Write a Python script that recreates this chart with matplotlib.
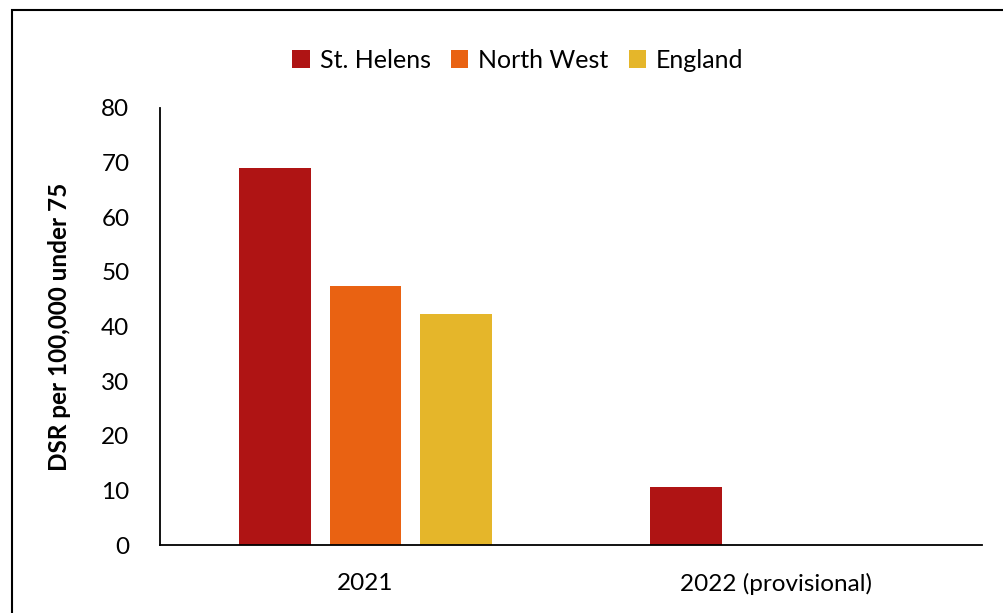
import numpy as np
import matplotlib.pyplot as plt
from matplotlib.patches import Rectangle

plt.rcParams['font.family'] = ['Lato', 'DejaVu Sans']

# Data
categories = ['2021', '2022 (provisional)']
series = ['St. Helens', 'North West', 'England']
st_helens = [69.0, 10.6]
north_west = [47.5, np.nan]
england = [42.2, np.nan]
colors = ['#AF1414', '#E96212', '#E5B62A']

fig = plt.figure(figsize=(10.04, 6.13), dpi=100)
ax = fig.add_axes([160 / 1004, 1 - 545 / 613, 822 / 1004, 437 / 613])

x = np.arange(len(categories))
width = 0.175
step = 0.221
for i, (vals, name) in enumerate(zip([st_helens, north_west, england], series)):
    ax.bar(x + (i - 1) * step, vals, width, color=colors[i], label=name)

ax.set_xlim(-0.5, 1.5)
ax.set_ylim(0, 80)
ax.set_yticks(range(0, 81, 10))
ax.set_xticks(x)
ax.set_xticklabels(categories)
ax.tick_params(axis='both', length=0, labelsize=17.5, colors='black')
ax.tick_params(axis='y', pad=22)
ax.tick_params(axis='x', pad=20)
for s in ['top', 'right']:
    ax.spines[s].set_visible(False)
ax.spines['left'].set_linewidth(1.3)
ax.spines['bottom'].set_linewidth(1.3)

ax.set_ylabel('DSR per 100,000 under 75', fontsize=17.5, fontweight='bold', labelpad=22)

fig.legend(loc='center', bbox_to_anchor=(518 / 1004, 1 - 60 / 613), ncol=3,
           frameon=False, fontsize=18, handlelength=0.7, handleheight=0.7,
           handletextpad=0.4, columnspacing=0.8)

# outer frame (right and bottom edges fall outside the image)
fig.patches.append(Rectangle((12 / 1004, -0.1), 1.2, 1 - 10 / 613 + 0.1,
                             transform=fig.transFigure, fill=False,
                             edgecolor='black', linewidth=1.5))

fig.savefig('out.png', dpi=100)
